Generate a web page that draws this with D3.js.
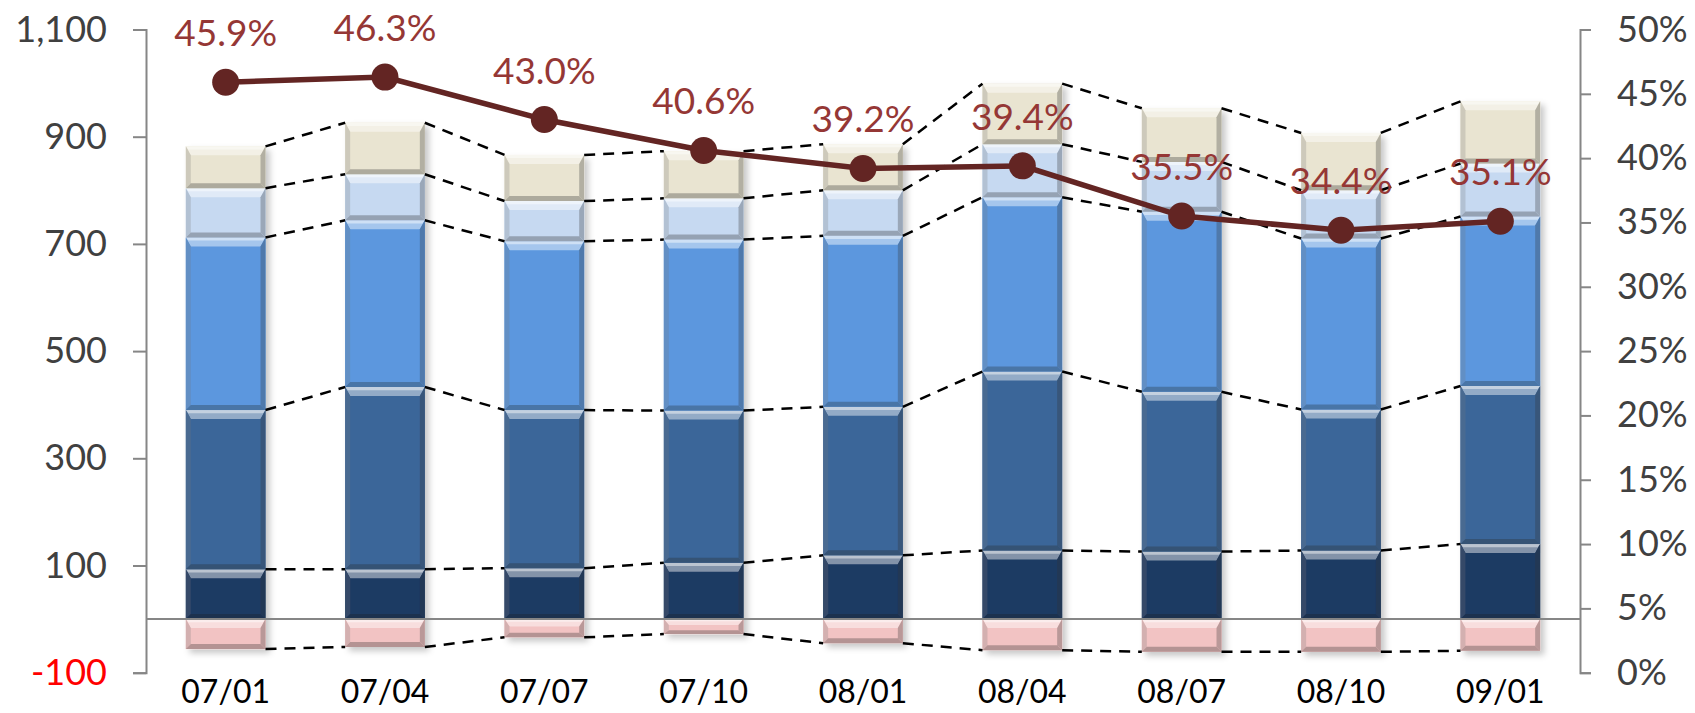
<!DOCTYPE html>
<html>
<head>
<meta charset="utf-8">
<script src="https://cdn.jsdelivr.net/npm/d3@7"></script>
<style>
  body { margin: 0; background: #fff; }
  svg text { font-family: Lato, "Open Sans", sans-serif; }
</style>
</head>
<body>
<svg id="chart" width="1695" height="713"></svg>
<script>
var cats = ["07/01", "07/04", "07/07", "07/10", "08/01", "08/04", "08/07", "08/10", "09/01"];
// stacked parts, bottom to top
var navy      = [93, 93, 95, 105, 119, 128, 126, 128, 140];
var midDark   = [297, 340, 295, 284, 277, 334, 298, 263, 295];
var midBlue   = [322, 311, 315, 319, 319, 325, 336, 319, 316];
var lightBlue = [92, 86, 75, 77, 85, 99, 93, 90, 99];
var beige     = [78, 96, 86, 88, 86, 113, 100, 107, 116];
var minus     = [-56, -52, -34, -28, -45, -58, -61, -61, -59];
// ratio line (%)
var ratio = [45.9, 46.3, 43.0, 40.6, 39.2, 39.4, 35.5, 34.4, 35.1];

var leftTicks = [-100, 100, 300, 500, 700, 900, 1100];
var rightTicks = [0, 5, 10, 15, 20, 25, 30, 35, 40, 45, 50];

var series = [navy, midDark, midBlue, lightBlue, beige];
var colors = ["#1d3a63", "#3b6699", "#5b97de", "#c6d9f1", "#e9e4d1"];
var minusColor = "#f2c3c3";

var svg = d3.select("#chart");

var x = d3.scaleBand().domain(cats).range([146, 1580]).paddingInner(0.5).paddingOuter(0.25);
var y = d3.scaleLinear().domain([-100, 1100]).range([672.7, 29.5]);
var y2 = d3.scaleLinear().domain([0, 50]).range([672.7, 29.5]);
var bw = x.bandwidth();

var defs = svg.append("defs");
var f = defs.append("filter").attr("id", "shadow").attr("x", "-20%").attr("y", "-20%").attr("width", "140%").attr("height", "140%");
f.append("feDropShadow").attr("dx", 4).attr("dy", 4).attr("stdDeviation", 3)
  .attr("flood-color", "#000").attr("flood-opacity", 0.22);

function mix(c, other, t) { return d3.interpolateRgb(c, other)(t); }

// one bevelled block, like the office chart style
function bevel(g, x0, x1, yt, yb, col) {
  var h = yb - yt, t = Math.min(9, h / 2.5), s = Math.min(5, h / 3), b = Math.min(5, h / 4);
  g.append("rect").attr("x", x0).attr("y", yt).attr("width", x1 - x0).attr("height", h).attr("fill", col);
  // top face
  g.append("polygon")
    .attr("points", [[x0, yt], [x1, yt], [x1 - s, yt + t], [x0 + s, yt + t]].join(" "))
    .attr("fill", mix(col, "#fff", 0.45));
  g.append("polygon")
    .attr("points", [[x0, yt], [x1, yt], [x1 - s * 0.5, yt + t * 0.35], [x0 + s * 0.5, yt + t * 0.35]].join(" "))
    .attr("fill", mix(col, "#fff", 0.7));
  // left face
  g.append("polygon")
    .attr("points", [[x0, yt], [x0 + s, yt + t], [x0 + s, yb - b], [x0, yb]].join(" "))
    .attr("fill", mix(col, "#777", 0.25));
  // right face
  g.append("polygon")
    .attr("points", [[x1, yt], [x1 - s, yt + t], [x1 - s, yb - b], [x1, yb]].join(" "))
    .attr("fill", mix(col, "#333", 0.3));
  // bottom face
  g.append("polygon")
    .attr("points", [[x0, yb], [x1, yb], [x1 - s, yb - b], [x0 + s, yb - b]].join(" "))
    .attr("fill", mix(col, "#222", 0.3));
}

// stacked bars
var tops = [];   // cumulative levels per category
cats.forEach(function(c, i) {
  var g = svg.append("g").attr("filter", "url(#shadow)");
  var x0 = x(c), x1 = x(c) + bw;
  var base = 0;
  var lv = [];
  bevel(g, x0, x1, y(0), y(minus[i]), minusColor);
  series.forEach(function(s, k) {
    var top = base + s[i];
    bevel(g, x0, x1, y(top), y(base), colors[k]);
    base = top;
    lv.push(top);
  });
  lv.push(minus[i]);
  tops.push(lv);
});

// dashed connectors between bars
for (var i = 0; i < cats.length - 1; i++) {
  tops[i].forEach(function(v, k) {
    svg.append("line")
      .attr("x1", x(cats[i]) + bw).attr("y1", y(v))
      .attr("x2", x(cats[i + 1])).attr("y2", y(tops[i + 1][k]))
      .attr("stroke", "#000").attr("stroke-width", 2.5).attr("stroke-dasharray", "11,8");
  });
}

// zero line
svg.append("line").attr("x1", 146).attr("x2", 1580).attr("y1", y(0)).attr("y2", y(0))
  .attr("stroke", "#868686").attr("stroke-width", 2);

// axes
var la = svg.append("g").attr("transform", "translate(146,0)")
  .call(d3.axisLeft(y).tickValues(leftTicks).tickSize(13).tickPadding(26)
    .tickFormat(function(d) { return d3.format(",")(Math.abs(d)).replace(/^/, d < 0 ? "-" : ""); }));
var ra = svg.append("g").attr("transform", "translate(1580,0)")
  .call(d3.axisRight(y2).tickValues(rightTicks).tickSize(11).tickPadding(26).tickFormat(function(d) { return d + "%"; }));
[la, ra].forEach(function(a) {
  a.select(".domain").attr("stroke", "#868686").attr("stroke-width", 2);
  a.selectAll(".tick line").attr("stroke", "#868686").attr("stroke-width", 2);
  a.selectAll(".tick text").attr("fill", "#404040").style("font-size", "36px");
});
la.selectAll(".tick text").filter(function(d) { return d < 0; }).attr("fill", "#ff0000");

// category labels
svg.selectAll(".cat").data(cats).enter().append("text")
  .attr("x", function(d) { return x(d) + bw / 2; })
  .attr("y", 703)
  .attr("text-anchor", "middle")
  .style("font-size", "32px")
  .attr("fill", "#000")
  .text(function(d) { return d; });

// ratio line
var line = d3.line().x(function(d, i) { return x(cats[i]) + bw / 2; }).y(function(d) { return y2(d); });
svg.append("path").datum(ratio).attr("d", line)
  .attr("fill", "none").attr("stroke", "#632523").attr("stroke-width", 5.5);
svg.selectAll(".dot").data(ratio).enter().append("circle")
  .attr("cx", function(d, i) { return x(cats[i]) + bw / 2; })
  .attr("cy", function(d) { return y2(d); })
  .attr("r", 13.5).attr("fill", "#632523");
svg.selectAll(".lbl").data(ratio).enter().append("text")
  .attr("x", function(d, i) { return x(cats[i]) + bw / 2; })
  .attr("y", function(d) { return y2(d) - 36; })
  .attr("text-anchor", "middle")
  .style("font-size", "37px")
  .attr("fill", "#953735")
  .text(function(d) { return d.toFixed(1) + "%"; });
</script>
</body>
</html>
